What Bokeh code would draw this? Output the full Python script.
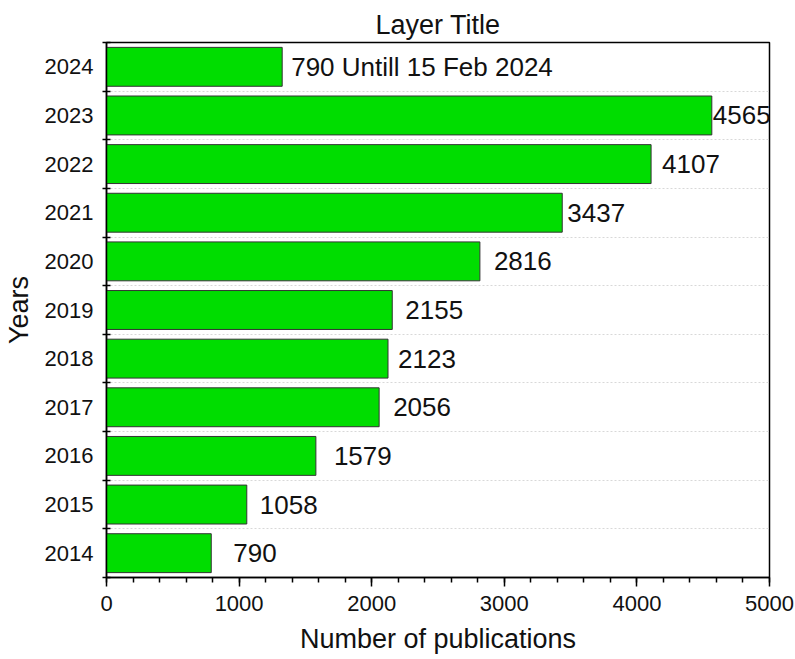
from bokeh.plotting import figure
from bokeh.models import Range1d, FixedTicker, ColumnDataSource
from bokeh.embed import file_html
from bokeh.resources import INLINE
from bokeh.core.properties import value

# ---- data ----
years = [2014, 2015, 2016, 2017, 2018, 2019, 2020, 2021, 2022, 2023, 2024]
publications = [790, 1058, 1579, 2056, 2123, 2155, 2816, 3437, 4107, 4565, 1325]
bar_labels = ["790", "1058", "1579", "2056", "2123", "2155", "2816", "3437",
              "4107", "4565", "790 Untill 15 Feb 2024"]
year_labels = [str(y) for y in years]
x_ticks = [0, 1000, 2000, 3000, 4000, 5000]
x_minor_ticks = list(range(0, 5001, 200))
label_offsets = [22, 13, 18, 14, 10, 13, 14, 5, 11, 1, 9]  # px, style

FONT = "Liberation Sans"

src = ColumnDataSource(dict(year=years, pub=publications, lab=bar_labels, off=label_offsets))

p = figure(width=795, height=659, output_backend="svg", toolbar_location=None,
           x_range=Range1d(0, 5000), y_range=Range1d(years[0] - 0.5, years[-1] + 0.5),
           min_border_left=105, min_border_right=26, min_border_top=42, min_border_bottom=82)

p.title.text = "Layer Title"
p.title.align = "center"
p.title.text_font = FONT
p.title.text_font_size = "27px"
p.title.text_font_style = "normal"
p.title.text_color = "#111111"
p.title.standoff = 5

p.hbar(y="year", right="pub", left=0, height=0.8, source=src,
       fill_color="#00DD00", line_color="#333333", line_width=1)

p.text(x="pub", y="year", text="lab", x_offset="off", source=src,
       text_baseline="middle", text_align="left",
       text_font=value(FONT), text_font_size="26px", text_color="#111111")

# y axis
yax = p.yaxis[0]
yax.ticker = FixedTicker(ticks=years, minor_ticks=[y - 0.5 for y in years] + [years[-1] + 0.5])
yax.major_label_overrides = {y: l for y, l in zip(years, year_labels)}
yax.major_tick_in = 0
yax.major_tick_out = 0
yax.minor_tick_in = 4
yax.minor_tick_out = 4
yax.major_label_standoff = 9
yax.axis_label = "Years"
yax.axis_label_standoff = 8

# x axis
xax = p.xaxis[0]
xax.ticker = FixedTicker(ticks=x_ticks, minor_ticks=x_minor_ticks)
xax.major_tick_in = 0
xax.major_tick_out = 9
xax.minor_tick_in = 0
xax.minor_tick_out = 5
xax.major_label_standoff = 9
xax.axis_label = "Number of publications"
xax.axis_label_standoff = 10

for ax in (xax, yax):
    ax.axis_line_color = "black"
    ax.axis_line_width = 1.5
    ax.major_tick_line_color = "black"
    ax.major_tick_line_width = 1.5
    ax.minor_tick_line_color = "black"
    ax.minor_tick_line_width = 1.5
    ax.major_label_text_font = FONT
    ax.major_label_text_font_size = "22px"
    ax.major_label_text_color = "#111111"
    ax.axis_label_text_font = FONT
    ax.axis_label_text_font_size = "27px"
    ax.axis_label_text_font_style = "normal"
    ax.axis_label_text_color = "#111111"

p.xgrid.grid_line_color = None
p.ygrid.grid_line_color = None
p.ygrid.minor_grid_line_color = "#d8d8d8"
p.ygrid.minor_grid_line_dash = "2 2"
p.ygrid.minor_grid_line_width = 1

p.outline_line_color = "black"
p.outline_line_width = 1.5
p.outline_line_alpha = 1.0

open("out.html", "w").write(file_html(p, INLINE))
